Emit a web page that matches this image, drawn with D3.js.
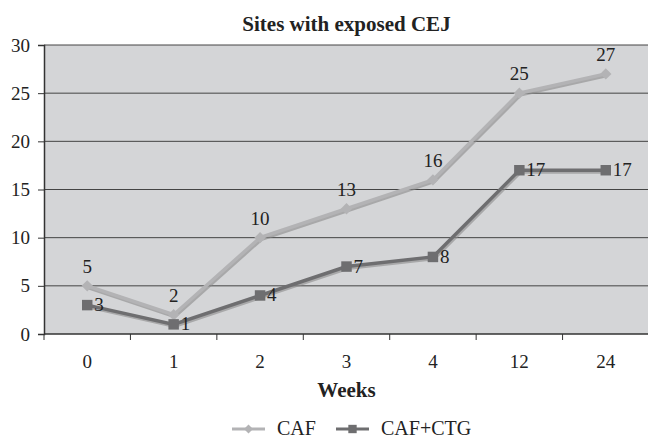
<!DOCTYPE html>
<html>
<head>
<meta charset="UTF-8">
<script src="https://d3js.org/d3.v7.min.js"></script>
<style>
  body { margin: 0; background: #fff; }
  text { font-family: "Liberation Serif", "Times New Roman", serif; fill: #222; }
</style>
</head>
<body>
<svg id="chart" width="648" height="439"></svg>
<script>
const weeks = ['0', '1', '2', '3', '4', '12', '24'];
const caf = [5, 2, 10, 13, 16, 25, 27];
const cafCtg = [3, 1, 4, 7, 8, 17, 17];
const yTicks = [0, 5, 10, 15, 20, 25, 30];

const svg = d3.select('#chart');
const plotLeft = 44, plotRight = 649, plotTop = 45, plotBottom = 334;

const x = d3.scaleBand().domain(weeks).range([plotLeft, plotRight]);
const y = d3.scaleLinear().domain([0, 30]).range([plotBottom, plotTop]);
const cx = d => x(d) + x.bandwidth() / 2;

svg.append('rect')
  .attr('x', plotLeft).attr('y', plotTop)
  .attr('width', plotRight - plotLeft).attr('height', plotBottom - plotTop)
  .attr('fill', '#d4d5d7');

// gridlines
svg.append('g').selectAll('line').data(yTicks.slice(1)).join('line')
  .attr('x1', plotLeft).attr('x2', plotRight)
  .attr('y1', d => y(d)).attr('y2', d => y(d))
  .attr('stroke', '#444').attr('stroke-width', 1);

// y axis
const yAxis = svg.append('g')
  .attr('transform', `translate(${plotLeft},0)`)
  .call(d3.axisLeft(y).tickValues(yTicks).tickSize(6).tickPadding(8));
yAxis.select('.domain').attr('stroke', '#333').attr('stroke-width', 1.5);
yAxis.selectAll('line').attr('stroke', '#333');
yAxis.selectAll('text').style('font-size', '19px').attr('fill', '#222');

// x axis
const xAxis = svg.append('g')
  .attr('transform', `translate(0,${plotBottom})`);
xAxis.append('line').attr('x1', plotLeft).attr('x2', plotRight).attr('stroke', '#333').attr('stroke-width', 1.5);
xAxis.selectAll('line.tk').data(weeks).join('line').attr('class', 'tk')
  .attr('x1', d => x(d)).attr('x2', d => x(d))
  .attr('y1', 0).attr('y2', 6).attr('stroke', '#333');
xAxis.selectAll('text').data(weeks).join('text')
  .attr('x', d => cx(d)).attr('y', 34)
  .attr('text-anchor', 'middle')
  .style('font-size', '19px')
  .text(d => d);

// title and axis title
svg.append('text').attr('x', (plotLeft + plotRight) / 2).attr('y', 31)
  .attr('text-anchor', 'middle').style('font-size', '21px').style('font-weight', 'bold')
  .text('Sites with exposed CEJ');
svg.append('text').attr('x', (plotLeft + plotRight) / 2).attr('y', 397)
  .attr('text-anchor', 'middle').style('font-size', '21px').style('font-weight', 'bold')
  .text('Weeks');

const line = d3.line().x((d, i) => cx(weeks[i])).y(d => y(d));
const diamond = d3.symbol().type(d3.symbolSquare).size(64);
const square = d3.symbol().type(d3.symbolSquare).size(110);

function drawSeries(vals, color, isDiamond) {
  const g = svg.append('g');
  g.append('path').datum(vals).attr('d', line)
    .attr('transform', 'translate(1,1.5)')
    .attr('fill', 'none').attr('stroke', '#8a8a8a').attr('stroke-width', 4).attr('opacity', 0.6);
  g.append('path').datum(vals).attr('d', line)
    .attr('fill', 'none').attr('stroke', color).attr('stroke-width', 3.5);
  g.selectAll('path.m').data(vals).join('path').attr('class', 'm')
    .attr('d', isDiamond ? diamond : square)
    .attr('transform', (d, i) => `translate(${cx(weeks[i])},${y(d)})` + (isDiamond ? ' rotate(45)' : ''))
    .attr('fill', color);
}

drawSeries(caf, '#b3b3b5', true);
drawSeries(cafCtg, '#6e6e70', false);

// labels
svg.append('g').selectAll('text').data(caf).join('text')
  .attr('x', (d, i) => cx(weeks[i])).attr('y', d => y(d) - 13)
  .attr('text-anchor', 'middle').style('font-size', '19px')
  .text(d => d);
svg.append('g').selectAll('text').data(cafCtg).join('text')
  .attr('x', (d, i) => cx(weeks[i]) + 7).attr('y', d => y(d) + 6)
  .style('font-size', '19px')
  .text(d => d);

// legend
const leg = svg.append('g').attr('transform', 'translate(0,429)');
const items = [
  {name: 'CAF', color: '#b3b3b5', diamond: true, x0: 232},
  {name: 'CAF+CTG', color: '#6e6e70', diamond: false, x0: 336}
];
items.forEach(it => {
  leg.append('line').attr('x1', it.x0).attr('x2', it.x0 + 33)
    .attr('stroke', it.color).attr('stroke-width', 3);
  leg.append('path').attr('d', d3.symbol().type(d3.symbolSquare).size(it.diamond ? 40 : 70)())
    .attr('transform', `translate(${it.x0 + 16.5},0)` + (it.diamond ? ' rotate(45)' : ''))
    .attr('fill', it.color);
  leg.append('text').attr('x', it.x0 + 45).attr('y', 6)
    .style('font-size', '20px').text(it.name);
});
</script>
</body>
</html>
